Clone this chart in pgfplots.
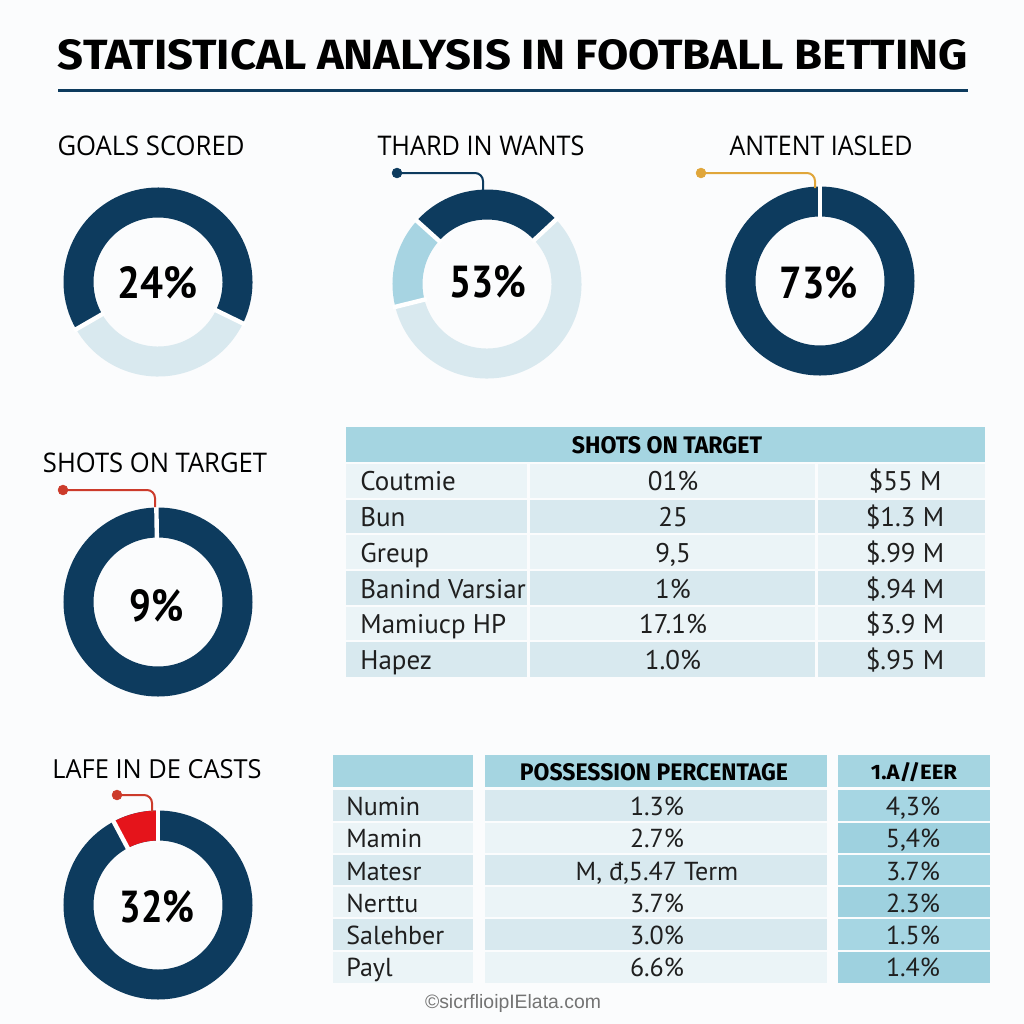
\documentclass[border=0pt]{standalone}
\usepackage{pgfplots}
\pgfplotsset{compat=1.18}
\usepackage{fontspec}
\usepackage{graphicx}
\setmainfont{PT Sans}
\newfontfamily\lblfont{Open Sans}
\newfontfamily\hdfont{Fira Sans}
\newfontfamily\footfont{Liberation Sans}

\definecolor{navy}{HTML}{0D3B5E}
\definecolor{pale}{HTML}{D9E9EF}
\definecolor{midblue}{HTML}{A7D4E2}
\definecolor{hdr}{HTML}{A5D5E1}
\definecolor{rowA}{HTML}{EBF4F7}
\definecolor{rowB}{HTML}{D8E9EF}
\definecolor{col3A}{HTML}{A6D6E3}
\definecolor{col3B}{HTML}{9ED1DF}
\definecolor{segred}{HTML}{E5141B}
\definecolor{callred}{HTML}{CC3B2B}
\definecolor{gold}{HTML}{E0A63A}
\definecolor{bg}{HTML}{FBFCFD}

% size text to a measured box (pt)
\newcommand\fit[3]{\resizebox{#1pt}{#2pt}{#3}}
% donut ring segment: cx cy start end colour
\newcommand\seg[5]{\draw[#5, line width=15pt] (axis cs:#1,#2) ++(#3:39.75pt) arc[start angle=#3, end angle=#4, radius=39.75pt];}
% full ring
\newcommand\ring[3]{\draw[#3, line width=15pt] (axis cs:#1,#2) circle[radius=39.75pt];}
% white cut across the ring
\newcommand\cut[3]{\draw[white, line width=2.2pt] (axis cs:#1,#2) ++(#3:31pt) -- ++(#3:17.5pt);}
% table cell
\newcommand\cell[5]{\fill[#5] (axis cs:#1,#2) rectangle (axis cs:#3,#4);}

\begin{document}
\begin{tikzpicture}
\begin{axis}[
    width=512pt, height=512pt, scale only axis,
    xmin=0, xmax=1024, ymin=0, ymax=1024,
    y dir=reverse, hide axis, clip=false
]
\fill[bg] (axis cs:0,0) rectangle (axis cs:1024,1024);

% title
\node at (axis cs:513,55) {\hdfont\bfseries\fit{455}{15}{STATISTICAL ANALYSIS IN FOOTBALL BETTING}};
\draw[navy, line width=1.5pt] (axis cs:58,90) -- (axis cs:968,90);

% donut labels
\node at (axis cs:151,146) {\lblfont\fit{93.5}{9.8}{GOALS SCORED}};
\node at (axis cs:481,146) {\lblfont\fit{103.5}{9.8}{THARD IN WANTS}};
\node at (axis cs:821,146) {\lblfont\fit{91.5}{9.8}{ANTENT IASLED}};
\node at (axis cs:155,463) {\lblfont\fit{112}{9.8}{SHOTS ON TARGET}};
\node at (axis cs:157,769) {\lblfont\fit{104.5}{9.5}{LAFE IN DE CASTS}};

% donut 1
\seg{158}{282}{210}{334}{pale}
\seg{158}{282}{-26}{210}{navy}
\cut{158}{282}{-26}\cut{158}{282}{210}
% donut 2
\seg{487}{284}{194}{403}{pale}
\seg{487}{284}{138}{194}{midblue}
\seg{487}{284}{43}{138}{navy}
\cut{487}{284}{43}\cut{487}{284}{138}\cut{487}{284}{194}
% donut 3
\ring{820}{281}{navy}
\cut{820}{281}{90}
% donut 4
\ring{158}{602}{navy}
\cut{158}{602}{91}
% donut 5
\ring{158}{905}{navy}
\seg{158}{905}{90}{118}{segred}
\cut{158}{905}{90}\cut{158}{905}{118}

% callouts
\addplot[navy, line width=1pt, rounded corners=4pt, mark=none] coordinates {(397,173) (483,173) (483,190)};
\addplot[navy, only marks, mark=*, mark size=2.4pt] coordinates {(397,173)};
\addplot[gold, line width=1pt, rounded corners=4pt, mark=none] coordinates {(701,173) (815,173) (815,188)};
\addplot[gold, only marks, mark=*, mark size=2.4pt] coordinates {(701,173)};
\addplot[callred, line width=1pt, rounded corners=4pt, mark=none] coordinates {(63,490) (155,490) (155,507)};
\addplot[callred, only marks, mark=*, mark size=2.4pt] coordinates {(63,490)};
\addplot[callred, line width=1pt, rounded corners=4pt, mark=none] coordinates {(117,795) (152,795) (152,812)};
\addplot[callred, only marks, mark=*, mark size=2.4pt] coordinates {(117,795)};

% donut values
\node at (axis cs:158,283) {\bfseries\fit{40}{16}{24\%}};
\node at (axis cs:488,282) {\bfseries\fit{38.5}{16}{53\%}};
\node at (axis cs:819,283) {\bfseries\fit{39}{16}{73\%}};
\node at (axis cs:157,606) {\bfseries\fit{27}{16}{9\%}};
\node at (axis cs:157,907) {\bfseries\fit{37.5}{16}{32\%}};

% table 1
\cell{346}{427}{985}{462}{hdr}
\node at (axis cs:667,445) {\hdfont\bfseries\fit{95}{8.5}{SHOTS ON TARGET}};
\cell{346}{464}{527}{498}{rowA}\cell{530}{464}{815}{498}{rowA}\cell{818}{464}{985}{498}{rowA}
\cell{346}{500}{527}{533}{rowB}\cell{530}{500}{815}{533}{rowB}\cell{818}{500}{985}{533}{rowB}
\cell{346}{535}{527}{569}{rowA}\cell{530}{535}{815}{569}{rowA}\cell{818}{535}{985}{569}{rowA}
\cell{346}{571}{527}{605}{rowB}\cell{530}{571}{815}{605}{rowB}\cell{818}{571}{985}{605}{rowB}
\cell{346}{607}{527}{640}{rowA}\cell{530}{607}{815}{640}{rowA}\cell{818}{607}{985}{640}{rowA}
\cell{346}{642}{527}{677}{rowB}\cell{530}{642}{815}{677}{rowB}\cell{818}{642}{985}{677}{rowB}
\begin{scope}[every node/.style={font=\fontsize{13.5}{16}\selectfont, text=black!88, text height=9.4pt, text depth=0pt, inner sep=0pt}]
\node[anchor=west] at (axis cs:360,481) {Coutmie};
\node[anchor=west] at (axis cs:360,517) {Bun};
\node[anchor=west] at (axis cs:360,553) {Greup};
\node[anchor=west] at (axis cs:360,589) {Banind Varsiar};
\node[anchor=west] at (axis cs:360,624) {Mamiucp HP};
\node[anchor=west] at (axis cs:360,660) {Hapez};
\node at (axis cs:673,481) {01\%};
\node at (axis cs:673,517) {25};
\node at (axis cs:673,553) {9,5};
\node at (axis cs:673,589) {1\%};
\node at (axis cs:673,624) {17.1\%};
\node at (axis cs:673,660) {1.0\%};
\node at (axis cs:905,481) {\$55 M};
\node at (axis cs:905,517) {\$1.3 M};
\node at (axis cs:905,553) {\$.99 M};
\node at (axis cs:905,589) {\$.94 M};
\node at (axis cs:905,624) {\$3.9 M};
\node at (axis cs:905,660) {\$.95 M};
\end{scope}

% table 2
\cell{333}{755}{473}{787}{hdr}\cell{485}{755}{827}{787}{hdr}\cell{838}{755}{990}{787}{hdr}
\node at (axis cs:654,772) {\hdfont\bfseries\fit{134}{8.5}{POSSESSION PERCENTAGE}};
\node at (axis cs:914,772) {\hdfont\bfseries\fit{43}{8.5}{1.A//EER}};
\cell{333}{790}{473}{821}{rowB}\cell{485}{790}{827}{821}{rowB}\cell{838}{790}{990}{821}{col3A}
\cell{333}{823}{473}{853}{rowA}\cell{485}{823}{827}{853}{rowA}\cell{838}{823}{990}{853}{col3B}
\cell{333}{855}{473}{885}{rowB}\cell{485}{855}{827}{885}{rowB}\cell{838}{855}{990}{885}{col3A}
\cell{333}{887}{473}{917}{rowA}\cell{485}{887}{827}{917}{rowA}\cell{838}{887}{990}{917}{col3B}
\cell{333}{919}{473}{950}{rowB}\cell{485}{919}{827}{950}{rowB}\cell{838}{919}{990}{950}{col3A}
\cell{333}{952}{473}{983}{rowA}\cell{485}{952}{827}{983}{rowA}\cell{838}{952}{990}{983}{col3B}
\begin{scope}[every node/.style={font=\fontsize{13}{16}\selectfont, text=black!88, text height=9.1pt, text depth=0pt, inner sep=0pt}]
\node[anchor=west] at (axis cs:346,806) {Numin};
\node[anchor=west] at (axis cs:346,838) {Mamin};
\node[anchor=west] at (axis cs:346,871) {Matesr};
\node[anchor=west] at (axis cs:346,903) {Nerttu};
\node[anchor=west] at (axis cs:346,935) {Salehber};
\node[anchor=west] at (axis cs:346,967) {Payl};
\node at (axis cs:657,806) {1.3\%};
\node at (axis cs:657,838) {2.7\%};
\node at (axis cs:657,871) {M, đ,5.47 Term};
\node at (axis cs:657,903) {3.7\%};
\node at (axis cs:657,935) {3.0\%};
\node at (axis cs:657,967) {6.6\%};
\node at (axis cs:913,806) {4,3\%};
\node at (axis cs:913,838) {5,4\%};
\node at (axis cs:913,871) {3.7\%};
\node at (axis cs:913,903) {2.3\%};
\node at (axis cs:913,935) {1.5\%};
\node at (axis cs:913,967) {1.4\%};
\end{scope}

% footer
\node[text=black!55] at (axis cs:513,1003) {\footfont\resizebox{88pt}{!}{\fontsize{10}{12}\selectfont ©sicrflioipIElata.com}};
\end{axis}
\end{tikzpicture}
\end{document}
